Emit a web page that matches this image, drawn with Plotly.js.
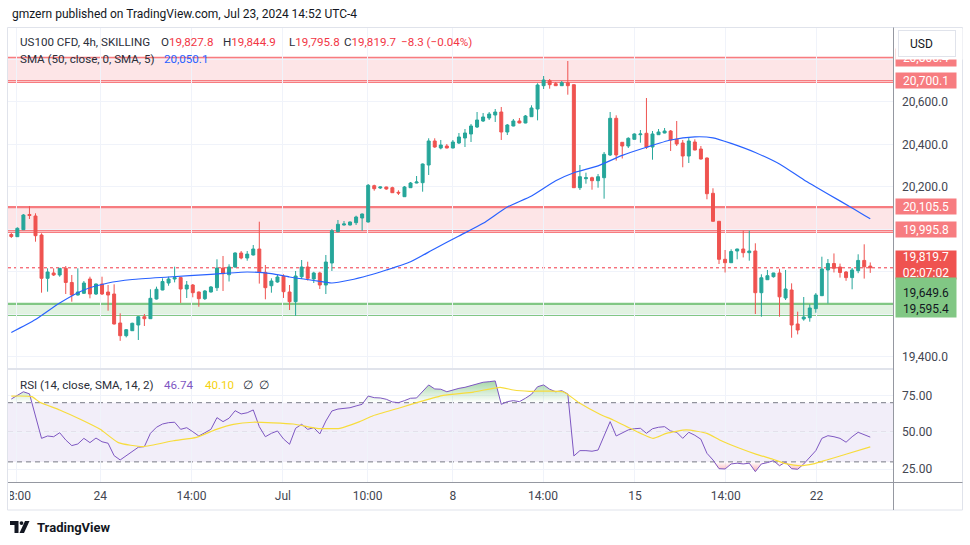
<!DOCTYPE html>
<html><head><meta charset="utf-8">
<script src="https://cdn.plot.ly/plotly-3.0.1.min.js"></script>
<style>html,body{margin:0;padding:0;background:#fff}#chart{width:970px;height:545px}</style>
</head><body><div id="chart"></div>
<script>
// ---------- DATA ----------
const open = [
19976.4,19966.1,19999.0,20070.6,20063.5,19974.1,19770.3,19795.3,19785.9,19817.4,
19750.6,19691.7,19699.7,19767.0,19696.4,19743.5,19705.8,19696.4,19560.0,19500.2,
19523.7,19550.6,19589.6,19580.2,19672.9,19715.3,19748.2,19767.0,19773.5,19720.0,
19738.8,19705.8,19674.3,19705.8,19726.1,19818.8,19787.3,19823.5,19889.4,19865.9,
19880.0,19908.2,19798.3,19735.4,19752.9,19779.8,19705.8,19660.2,19777.9,19823.5,
19767.0,19795.3,19738.8,19842.3,19989.6,20021.1,20021.1,20032.0,20054.1,20035.3,
20206.1,20195.3,20200.0,20196.7,20175.0,20154.3,20196.7,20218.8,20220.2,20303.5,
20416.5,20383.5,20392.9,20383.5,20407.0,20430.6,20449.4,20482.3,20510.6,20524.7,
20538.8,20552.9,20458.8,20487.0,20510.6,20501.2,20530.8,20567.0,20676.7,20700.2,
20686.1,20676.7,20690.8,20681.4,20196.7,20239.0,20243.7,20229.6,20243.7,20350.6,
20523.2,20410.3,20392.9,20424.5,20446.1,20452.7,20388.2,20446.1,20454.1,20463.5,
20424.5,20407.0,20345.8,20411.7,20378.8,20336.4,20170.3,20038.6,19859.7,19843.7,
19898.8,19908.2,19890.8,19898.8,19702.6,19763.7,19777.9,19795.3,19677.6,19715.3,
19555.3,19578.8,19584.9,19627.4,19688.5,19809.4,19839.9,19823.5,19800.0,19773.5,
19806.1,19854.4,19827.8];
const high = [
19983.5,20010.3,20072.9,20110.6,20076.2,19982.1,19817.4,19817.4,19818.8,19828.2,
19785.9,19817.4,19757.6,19777.9,19745.9,19777.9,19738.8,19742.1,19605.6,19531.7,
19561.4,19592.9,19602.3,19718.6,19731.0,19770.3,19777.9,19824.9,19774.5,19757.6,
19743.5,19708.2,19715.3,19734.1,19859.7,19875.3,19836.4,19892.7,19898.8,19898.8,
19927.0,20036.7,19832.9,19770.3,19785.9,19789.2,19738.8,19804.7,19856.4,19848.5,
19801.1,19801.1,19880.0,20002.3,20044.7,20040.0,20037.6,20064.9,20075.3,20214.1,
20210.8,20202.3,20201.4,20201.4,20184.4,20204.7,20223.5,20251.7,20310.5,20429.2,
20429.2,20421.2,20402.3,20421.2,20454.1,20472.9,20496.5,20552.9,20548.2,20552.9,
20567.0,20576.5,20496.5,20520.0,20524.7,20538.8,20584.5,20688.0,20722.3,20708.2,
20694.1,20698.8,20792.9,20682.3,20303.5,20267.3,20248.5,20261.2,20364.7,20552.9,
20537.3,20411.7,20433.9,20452.7,20468.2,20618.8,20463.5,20472.9,20477.6,20468.2,
20510.6,20421.2,20435.3,20424.5,20393.0,20338.8,20193.9,20040.0,19903.5,19906.8,
19909.6,19994.3,19994.3,19935.0,19789.2,19809.4,19796.2,19815.3,19809.4,19746.6,
19613.3,19682.3,19647.9,19700.7,19872.0,19861.1,19887.3,19839.4,19804.7,19818.8,
19883.2,19930.3,19844.9];
const low = [
19960.0,19964.7,19997.6,20049.4,19942.6,19702.6,19707.3,19781.1,19777.8,19696.4,
19660.2,19689.4,19696.4,19676.2,19691.7,19691.7,19617.8,19552.9,19475.9,19492.4,
19522.3,19480.0,19545.9,19578.8,19670.5,19714.0,19735.4,19751.2,19654.3,19677.6,
19680.9,19636.7,19668.2,19703.5,19710.6,19710.6,19755.3,19820.2,19859.7,19853.1,
19877.6,19745.4,19671.5,19702.6,19749.6,19677.9,19621.1,19593.7,19767.0,19760.0,
19748.2,19720.0,19696.4,19804.7,19986.8,20018.8,20018.8,20021.1,19994.3,20032.9,
20182.6,20190.6,20187.3,20171.7,20162.3,20153.0,20195.3,20217.4,20177.9,20256.5,
20384.2,20377.3,20381.9,20381.9,20402.3,20388.2,20411.7,20477.6,20505.9,20515.3,
20505.9,20421.2,20444.7,20485.6,20499.8,20499.8,20529.4,20513.7,20661.2,20662.6,
20675.3,20675.3,20634.3,20195.3,20185.9,20215.5,20187.3,20196.7,20144.9,20345.9,
20324.1,20334.2,20383.5,20422.6,20408.4,20378.8,20328.4,20444.7,20452.7,20369.4,
20393.0,20292.7,20312.9,20372.6,20329.4,20142.1,20037.6,19837.6,19797.7,19842.3,
19859.7,19868.5,19853.1,19602.3,19589.6,19762.3,19773.5,19589.6,19668.2,19490.5,
19506.5,19570.8,19566.1,19608.5,19687.1,19651.9,19797.7,19773.5,19758.5,19718.6,
19794.4,19768.9,19795.8];
const close = [
19967.0,20005.6,20068.2,20065.9,19970.8,19770.3,19800.0,19785.9,19817.4,19750.7,
19691.7,19705.8,19748.2,19696.4,19743.5,19696.4,19691.7,19555.3,19500.2,19528.4,
19558.6,19589.6,19580.2,19676.2,19718.6,19755.3,19767.0,19773.5,19720.0,19738.8,
19702.6,19674.3,19710.6,19729.4,19818.8,19792.0,19823.5,19889.4,19865.9,19884.2,
19908.2,19798.3,19726.1,19757.6,19776.4,19707.3,19660.2,19781.1,19823.5,19770.3,
19795.3,19738.8,19847.0,19994.3,20024.4,20025.9,20035.3,20058.8,20072.9,20208.0,
20192.0,20200.0,20190.6,20173.1,20171.7,20200.0,20218.8,20223.5,20308.2,20416.5,
20388.2,20397.6,20383.5,20411.7,20435.3,20454.1,20487.0,20515.3,20529.4,20543.5,
20552.9,20458.8,20491.8,20510.6,20501.2,20534.1,20571.8,20680.0,20703.5,20681.4,
20676.7,20690.8,20676.7,20196.7,20248.5,20243.7,20229.6,20248.5,20353.9,20523.2,
20350.6,20392.9,20429.2,20449.4,20449.4,20388.2,20449.4,20458.8,20463.5,20421.2,
20402.3,20345.8,20416.5,20374.1,20331.7,20168.4,20038.6,19859.7,19843.7,19896.5,
19908.2,19890.8,19898.8,19702.6,19772.7,19782.6,19795.3,19683.1,19720.0,19550.5,
19527.0,19588.2,19630.6,19691.7,19814.1,19839.9,19817.4,19797.7,19773.5,19809.4,
19854.4,19824.3,19819.7];

const smaIdx = [0,4,8,12,16,20,26,33,39,43,46,50,53,56,59,62,66,70,74,78,82,86,90,93,97,101,105,109,113,116,119,123,127,131,135,139,142];
const smaVal = [19515.3,19576.4,19654.1,19715.3,19748.2,19764.7,19776.4,19789.1,19800.0,19792.0,19776.4,19760.0,19748.2,19762.3,19783.5,19809.4,19848.4,19909.6,19969.4,20029.1,20105.9,20157.6,20229.2,20267.0,20299.3,20348.7,20386.8,20421.2,20436.0,20431.5,20405.2,20362.3,20308.2,20233.9,20167.0,20101.6,20050.1];

const rsi = [
72.5,75.2,77.4,76.0,60.0,45.9,47.5,47.0,49.7,44.8,
41.0,42.1,45.9,43.0,46.1,43.6,42.6,34.2,31.3,34.0,
36.9,39.9,40.3,49.3,53.4,55.6,56.5,56.8,52.0,53.1,
50.4,47.5,49.7,52.0,59.9,57.2,59.5,64.6,62.4,63.2,
65.1,53.8,47.0,49.3,50.9,45.5,41.9,52.7,55.4,52.0,
53.1,48.9,57.6,64.4,65.7,66.0,66.6,67.8,68.9,74.5,
73.4,73.2,72.3,70.5,70.0,71.4,73.0,73.2,77.4,82.0,
79.3,79.1,77.4,78.6,79.7,80.4,81.5,83.1,83.8,84.2,
84.7,68.9,70.7,71.4,70.7,73.0,75.7,80.8,82.0,79.1,
77.4,78.1,75.9,34.0,37.6,37.6,37.2,38.0,48.2,57.2,
47.5,49.7,51.6,52.4,52.7,49.3,52.4,53.4,53.8,50.9,
50.0,45.9,50.0,48.0,45.3,35.8,31.3,25.4,25.2,28.6,
29.1,28.6,29.1,23.4,28.6,29.5,30.8,27.4,29.9,25.4,
25.0,28.6,33.1,37.6,45.9,47.7,47.0,45.9,43.3,47.0,
50.0,48.2,46.74];
const rsiMaIdx = [0,3.4,4.7,8,11.4,14.7,17.7,21.8,26.8,30.6,33.9,36.7,40,46.6,50.5,54.3,57.6,59.8,64.3,67.6,71.4,76.4,80.8,83,85.7,91.2,94,97.3,99.5,102.3,106.1,108.3,111.6,115,117.1,120.4,123.2,125.9,128.2,130.4,132.6,134.8,138.1,142];
const rsiMaVal = [74.5,74.1,70.3,65.1,58.8,52.0,43.0,40.3,44.3,46.6,52.0,55.4,56.8,55.6,52.7,52.7,57.2,61.2,66.6,70.7,75.0,77.2,80.4,78.6,77.7,77.4,69.6,62.2,58.3,52.7,45.9,49.3,51.6,49.3,44.8,39.2,35.1,31.8,28.6,27.4,28.6,31.3,35.3,40.1];

const tickPos = [0.8,14.7,29.8,44.9,58.9,73.0,87.9,103.1,118.1,133.1];
const tickText = ['18:00','24','14:00','Jul','10:00','8','14:00','15','14:00','22'];
const priceTicks = [19400,19600,19800,20000,20200,20400,20600,20800];
const priceTickText = ['19,400.0','','','','20,200.0','20,400.0','20,600.0',''];
const rsiTicks = [25,50,75];
const rsiLevels = [70,50,30];

const upperZone = [20700.1, 20810.3];
const upperZoneEdges = [20810.3, 20801.0, 20700.1, 20692.7];
const midZone = [19995.8, 20105.5];
const midZoneEdges = [20105.5, 19995.8, 19987.0];
const greenZone = [19595.4, 19649.6];
const lastPrice = 19819.7;

// ---------- LAYOUT HELPERS ----------
const L = 8, R = 893, T = 28, B = 482;
const px = x => (x - L) / (R - L);
const py = y => (B - y) / (B - T);
const FONT = 'Roboto, "Liberation Sans", sans-serif';

const idx = open.map((_, i) => i);
const above70 = rsi.map(v => Math.max(v, 70));
const below30 = rsi.map(v => Math.min(v, 30));
const c70 = idx.map(() => 70), c30 = idx.map(() => 30);

const data = [
  {type:'candlestick', x: idx, open, high, low, close, xaxis:'x', yaxis:'y',
   increasing:{line:{color:'#26a69a', width:1}, fillcolor:'#26a69a'},
   decreasing:{line:{color:'#ef5350', width:1}, fillcolor:'#ef5350'},
   whiskerwidth:0, hoverinfo:'skip', showlegend:false},
  {type:'scatter', mode:'lines', x: smaIdx, y: smaVal, xaxis:'x', yaxis:'y',
   line:{color:'#2962ff', width:1.2, shape:'spline', smoothing:0.6}, hoverinfo:'skip', showlegend:false},
  {type:'scatter', mode:'lines', x: idx, y: c70, xaxis:'x', yaxis:'y2', line:{width:0, color:'rgba(0,0,0,0)'}, hoverinfo:'skip', showlegend:false},
  {type:'scatter', mode:'lines', x: idx, y: above70, xaxis:'x', yaxis:'y2', fill:'tonexty',
   fillcolor:'rgba(76,175,80,0.25)',
   fillgradient:{type:'vertical', colorscale:[[0,'rgba(76,175,80,0.0)'],[1,'rgba(76,175,80,0.5)']]},
   line:{width:0, color:'rgba(0,0,0,0)'}, hoverinfo:'skip', showlegend:false},
  {type:'scatter', mode:'lines', x: idx, y: c30, xaxis:'x', yaxis:'y2', line:{width:0, color:'rgba(0,0,0,0)'}, hoverinfo:'skip', showlegend:false},
  {type:'scatter', mode:'lines', x: idx, y: below30, xaxis:'x', yaxis:'y2', fill:'tonexty',
   fillcolor:'rgba(242,54,69,0.15)',
   fillgradient:{type:'vertical', colorscale:[[0,'rgba(242,54,69,0.4)'],[1,'rgba(242,54,69,0.0)']]},
   line:{width:0, color:'rgba(0,0,0,0)'}, hoverinfo:'skip', showlegend:false},
  {type:'scatter', mode:'lines', x: idx, y: rsi, xaxis:'x', yaxis:'y2',
   line:{color:'#7e57c2', width:1}, hoverinfo:'skip', showlegend:false},
  {type:'scatter', mode:'lines', x: rsiMaIdx, y: rsiMaVal, xaxis:'x', yaxis:'y2',
   line:{color:'#f7dc3c', width:1.2, shape:'spline', smoothing:0.5}, hoverinfo:'skip', showlegend:false}
];

const shapes = [];
const hline = (yref, y, color, width, dash, layer) => shapes.push({type:'line', xref:'paper', x0:0, x1:1, yref, y0:y, y1:y, line:{color, width, dash: dash||'solid'}, layer: layer||'between'});
// zones
shapes.push({type:'rect', xref:'paper', x0:0, x1:1, yref:'y', y0:upperZone[0], y1:upperZone[1], fillcolor:'rgba(242,54,69,0.13)', line:{width:0}, layer:'below'});
shapes.push({type:'rect', xref:'paper', x0:0, x1:1, yref:'y', y0:midZone[0], y1:midZone[1], fillcolor:'rgba(242,54,69,0.13)', line:{width:0}, layer:'below'});
shapes.push({type:'rect', xref:'paper', x0:0, x1:1, yref:'y', y0:greenZone[0], y1:greenZone[1], fillcolor:'rgba(76,175,80,0.17)', line:{width:0}, layer:'below'});
upperZoneEdges.forEach(v => hline('y', v, '#f77c80', 1.3));
midZoneEdges.forEach((v, i) => hline('y', v, '#f77c80', i === 0 ? 2.2 : 1.3));
hline('y', greenZone[1], '#81c784', 2.2);
hline('y', greenZone[0], '#81c784', 1.3);
hline('y', lastPrice, '#f23645', 1, 'dot');
// RSI band
shapes.push({type:'rect', xref:'paper', x0:0, x1:1, yref:'y2', y0:30, y1:70, fillcolor:'rgba(126,87,194,0.1)', line:{width:0}, layer:'below'});
rsiLevels.forEach(v => hline('y2', v, v === 50 ? 'rgba(120,123,134,0.55)' : '#787b86', 1, '5px,4px'));
// frame
const pl = (x0,y0,x1,y1,color,w) => shapes.push({type:'line', xref:'paper', yref:'paper', x0:px(x0), y0:py(y0), x1:px(x1), y1:py(y1), line:{color, width:w}, layer:'above'});
shapes.push({type:'rect', xref:'paper', yref:'paper', x0:px(0), x1:px(10), y0:py(484), y1:py(509), fillcolor:'#ffffff', line:{width:0}, layer:'above'});
pl(7.5,27.5,962.5,27.5,'#e0e3eb',1);
pl(7.5,27.5,7.5,510,'#e0e3eb',1);
pl(962.5,27.5,962.5,510,'#e0e3eb',1);
pl(7.5,510,962.5,510,'#e0e3eb',1);
pl(8,369,893,369,'#e0e3eb',2);
pl(8,482.5,962.5,482.5,'#9598a1',1);
pl(893.5,27.5,893.5,510,'#9598a1',1);
// TradingView logo
const P = (x,y) => `${px(x)},${py(y)}`;
shapes.push({type:'path', xref:'paper', yref:'paper', path:`M${P(10,521)} L${P(18.5,521)} L${P(18.5,533)} L${P(14.5,533)} L${P(14.5,525)} L${P(10,525)} Z`, fillcolor:'#131722', line:{width:0}, layer:'above'});
shapes.push({type:'circle', xref:'paper', yref:'paper', x0:px(19.6), x1:px(23.4), y0:py(525), y1:py(521.2), fillcolor:'#131722', line:{width:0}, layer:'above'});
shapes.push({type:'path', xref:'paper', yref:'paper', path:`M${P(19.5,533)} L${P(25,521)} L${P(29.5,521)} L${P(24,533)} Z`, fillcolor:'#131722', line:{width:0}, layer:'above'});

// ---------- ANNOTATIONS ----------
const ann = [];
const txt = (x, y, text, size, color, extra) => ann.push(Object.assign({xref:'paper', yref:'paper', x:px(x), y:py(y), xanchor:'left', yanchor:'middle', text, showarrow:false, font:{family:FONT, size, color}}, extra||{}));
txt(10, 14, 'gmzern published on TradingView.com, Jul 23, 2024 14:52 UTC-4', 12, '#131722');
const RED = '#f23645';
const LF = 11.6;
txt(18, 42, 'US100 CFD, 4h, SKILLING', LF, '#2a2e39');
txt(159, 42, `O<span style="color:${RED}">19,827.8</span>`, LF, '#2a2e39');
txt(220.5, 42, `H<span style="color:${RED}">19,844.9</span>`, LF, '#2a2e39');
txt(287, 42, `L<span style="color:${RED}">19,795.8</span>`, LF, '#2a2e39');
txt(342, 42, `C<span style="color:${RED}">19,819.7</span>`, LF, '#2a2e39');
txt(399, 42, '\u22128.3 (\u22120.04%)', LF, RED);
txt(18, 59, 'SMA (50, close, 0, SMA, 5)', LF, '#2a2e39');
txt(162, 59, '20,050.1', LF, '#2962ff');
txt(18, 385, 'RSI (14, close, SMA, 14, 2)', LF, '#2a2e39');
txt(162, 385, '46.74', LF, '#7e57c2');
txt(203, 385, '40.10', LF, '#f5d20f');
txt(241, 385, '\u2205', LF, '#2a2e39');
txt(257, 385, '\u2205', LF, '#2a2e39');
txt(35, 527, '<b>TradingView</b>', 13, '#131722');

// price labels on axis
const tag = (yc, text, bg, fg, h, valign) => ann.push({xref:'paper', yref:'paper', x:px(895), y:py(yc), xanchor:'left', yanchor:'middle', text, showarrow:false, bgcolor:bg, borderpad:1, width:58, height:h, align:'center', valign: valign||'middle', font:{family:FONT, size:12, color:fg}});
tag(58, '20,806.4', '#f77c80', '#ffffff', 15);
tag(80, '20,700.1', '#f77c80', '#ffffff', 13);
tag(206.7, '20,105.5', '#f77c80', '#ffffff', 13);
tag(229.5, '19,995.8', '#f77c80', '#ffffff', 13);
tag(264.5, '19,819.7<br>02:07:02', '#ef5350', '#ffffff', 26);
tag(297, '19,649.6<br>19,595.4', '#81c784', '#131722', 37, 'bottom');
// white cover + USD box (covers top label)
ann.push({xref:'paper', yref:'paper', x:px(894.5), y:py(28.5), xanchor:'left', yanchor:'top', text:'\u00a0', showarrow:false, bgcolor:'#ffffff', borderpad:0, width:66, height:29.8, font:{size:12}});
ann.push({xref:'paper', yref:'paper', x:px(898), y:py(43.5), xanchor:'left', yanchor:'middle', text:'\u00a0', showarrow:false, bgcolor:'#ffffff', bordercolor:'#e0e3eb', borderwidth:1, borderpad:0, width:56, height:25, font:{size:12}});
txt(908, 44, 'USD', 12, '#131722');

const layout = {
  width:970, height:545, margin:{l:L, r:970-R, t:T, b:545-B},
  paper_bgcolor:'#ffffff', plot_bgcolor:'#ffffff',
  font:{family:FONT, size:12, color:'#434651'},
  showlegend:false, hovermode:false, dragmode:false,
  xaxis:{type:'linear', range:[(L - 11.3)/6.049, (R - 11.3)/6.049], anchor:'y2',
         tickmode:'array', tickvals:tickPos, ticktext:tickText, ticks:'', showgrid:true, gridcolor:'#f0f3fa', gridwidth:1,
         zeroline:false, showline:false, rangeslider:{visible:false}, tickfont:{size:12, color:'#434651'}, ticklabelstandoff:5},
  yaxis:{domain:[py(368),1], range:[19348.2, 20948.2], side:'right', anchor:'x', tickmode:'array', tickvals:priceTicks,
         ticktext:priceTickText, ticks:'', showgrid:true, gridcolor:'#f0f3fa', zeroline:false, showline:false, ticklabelstandoff:8,
         tickfont:{size:12, color:'#434651'}},
  yaxis2:{domain:[0, py(370)], range:[16.4, 92.1], side:'right', anchor:'x', tickmode:'array', tickvals:rsiTicks,
         tickformat:'.2f', ticks:'', showgrid:true, gridcolor:'#f0f3fa', zeroline:false, showline:false, ticklabelstandoff:8,
         tickfont:{size:12, color:'#434651'}},
  shapes, annotations: ann
};

Plotly.newPlot('chart', data, layout, {staticPlot:true, displayModeBar:false});
</script></body></html>
